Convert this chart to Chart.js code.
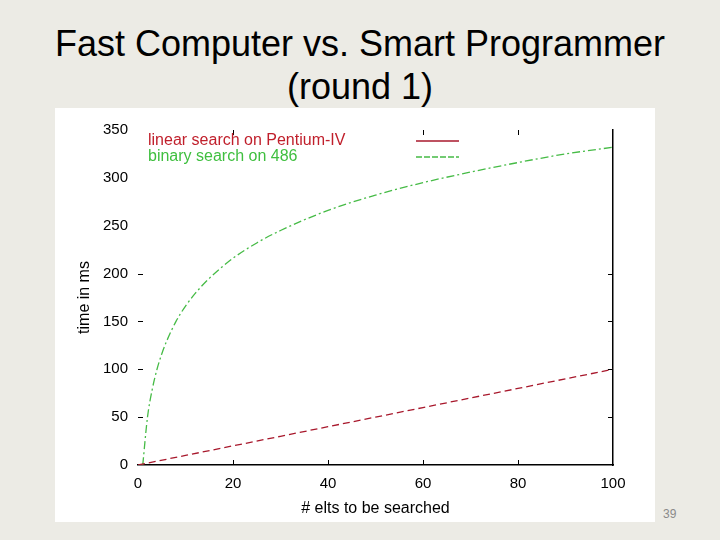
<!DOCTYPE html>
<html>
<head>
<meta charset="utf-8">
<script src="https://cdn.jsdelivr.net/npm/chart.js@4/dist/chart.umd.min.js"></script>
<style>
  body { margin: 0; width: 720px; height: 540px; background: #ecebe5; position: relative; overflow: hidden; font-family: "Liberation Sans", Arial, sans-serif; }
  h1 { position: absolute; left: 0; top: 22px; width: 720px; margin: 0; text-align: center; font-weight: normal; font-size: 36px; line-height: 43px; color: #000; }
  #panel { position: absolute; left: 55px; top: 108px; width: 600px; height: 414px; background: #fff; }
  #num { position: absolute; left: 663px; top: 507px; font-size: 12px; color: #8a8a8a; }
</style>
</head>
<body>
<h1>Fast Computer vs. Smart Programmer<br>(round 1)</h1>
<div id="panel"><canvas id="chart" width="600" height="414"></canvas></div>
<div id="num">39</div>
<script>
  // values
  const linearN = [0, 10, 20, 30, 40, 50, 60, 70, 80, 90, 100];
  const linearMs = [0, 10, 20, 30, 40, 50, 60, 70, 80, 90, 100];
  const binaryN = [1, 2, 3, 4, 5, 6, 8, 10, 12, 15, 20, 25, 30, 40, 50, 60, 70, 80, 90, 100];
  const binaryMs = [0, 50, 79, 100, 116, 129, 150, 166, 179, 195, 216, 232, 245, 266, 282, 295, 306, 316, 325, 332];
  const seriesNames = ["linear search on Pentium-IV", "binary search on 486"];

  const redLine = "#a8182c";
  const greenLine = "#46bb46";

  // gnuplot look: inward ticks + key with text left, sample right
  const gnuplotBits = {
    id: "gnuplotBits",
    afterDraw(chart) {
      const ctx = chart.ctx;
      const { left, right, top, bottom } = chart.chartArea;
      const sx = chart.scales.x;
      const sy = chart.scales.y;
      ctx.save();
      ctx.strokeStyle = "#000";
      ctx.lineWidth = 1;
      ctx.beginPath();
      [20, 40, 60, 80].forEach((v) => {
        const px = Math.round(sx.getPixelForValue(v)) + 0.5;
        ctx.moveTo(px, bottom);
        ctx.lineTo(px, bottom - 5);
      });
      [20, 60, 80].forEach((v) => {
        const px = Math.round(sx.getPixelForValue(v)) + 0.5;
        ctx.moveTo(px, top);
        ctx.lineTo(px, top + 5);
      });
      [50, 100, 150, 200].forEach((v) => {
        const py = Math.round(sy.getPixelForValue(v)) + 0.5;
        ctx.moveTo(left, py);
        ctx.lineTo(left + 5, py);
        ctx.moveTo(right, py);
        ctx.lineTo(right - 5, py);
      });
      ctx.stroke();

      ctx.font = "16px 'Liberation Sans', Arial, sans-serif";
      ctx.textBaseline = "middle";
      ctx.textAlign = "left";
      chart.data.datasets.forEach((ds, i) => {
        const ky = top + 11 + i * 16;
        ctx.fillStyle = ds.keyText;
        ctx.fillText(ds.label, left + 10, ky);
        ctx.strokeStyle = ds.borderColor;
        ctx.lineWidth = 1.6;
        ctx.setLineDash(i === 0 ? [] : [6, 2]);
        ctx.beginPath();
        ctx.moveTo(left + 278, ky);
        ctx.lineTo(left + 321, ky);
        ctx.stroke();
      });
      ctx.restore();
    },
  };

  const ctx = document.getElementById("chart");
  const chart = new Chart(ctx, {
    type: "line",
    data: {
      datasets: [
        {
          label: seriesNames[0],
          data: linearN.map((n, i) => ({ x: n, y: linearMs[i] })),
          borderColor: redLine,
          keyText: "#c01f2b",
          borderWidth: 1.3,
          borderDash: [7, 4],
          pointRadius: 0,
          tension: 0,
        },
        {
          label: seriesNames[1],
          data: binaryN.map((n, i) => ({ x: n, y: binaryMs[i] })),
          borderColor: greenLine,
          keyText: "#3fbf3f",
          borderWidth: 1.3,
          borderDash: [8, 3, 2, 3],
          pointRadius: 0,
          cubicInterpolationMode: "monotone",
        },
      ],
    },
    options: {
      responsive: false,
      animation: false,
      layout: { padding: { top: 22, right: 42, left: 0, bottom: 0 } },
      plugins: { legend: { display: false }, tooltip: { enabled: false } },
      scales: {
        x: {
          type: "linear",
          min: 0,
          max: 100,
          ticks: { stepSize: 20, color: "#000", font: { size: 15, family: "'Liberation Sans', Arial" }, padding: 2 },
          grid: { display: false },
          border: { display: true, color: "#000", width: 1.5 },
          title: { display: true, text: "# elts to be searched", color: "#000", font: { size: 16, family: "'Liberation Sans', Arial" }, padding: { top: 0 } },
          afterFit(scale) { scale.height = 57; },
        },
        y: {
          min: 0,
          max: 350,
          ticks: { stepSize: 50, color: "#000", font: { size: 15, family: "'Liberation Sans', Arial" }, padding: 2 },
          grid: { display: false },
          border: { display: false },
          title: { display: true, text: "time in ms", color: "#000", font: { size: 16, family: "'Liberation Sans', Arial" }, padding: { top: 20, bottom: 0 } },
          afterFit(scale) { scale.width = 83; },
        },
        y2: {
          position: "right",
          min: 0,
          max: 350,
          ticks: { display: false },
          grid: { display: false },
          border: { display: true, color: "#000", width: 1.5 },
          afterFit(scale) { scale.width = 0; },
        },
      },
    },
    plugins: [gnuplotBits],
  });
</script>
</body>
</html>
